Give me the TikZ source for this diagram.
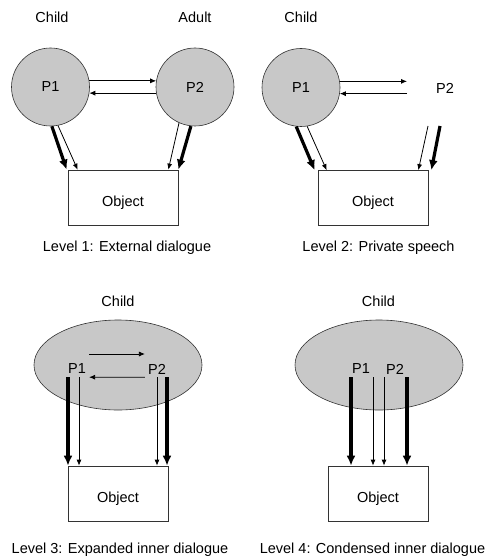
\documentclass[tikz,border=0pt]{standalone}
\usepackage{fontspec}
\setmainfont{Liberation Sans}
\usetikzlibrary{arrows.meta,shapes.geometric}
\definecolor{gray300}{HTML}{C8C8C8}
\definecolor{gray800}{HTML}{333333}
\tikzstyle{person}=[circle, draw=gray800, line width=0.6pt, fill=gray300, minimum size=78pt, inner sep=0pt]
\tikzstyle{mind}=[ellipse, draw=gray800, line width=0.6pt, fill=gray300, minimum width=168pt, minimum height=90pt]
\tikzstyle{objbox}=[rectangle, draw=gray800, line width=0.7pt, minimum width=110pt, minimum height=55pt, text height=17pt, text depth=0pt, inner sep=0pt]
\tikzstyle{voice}=[inner sep=3pt]
\tikzstyle{talk}=[line width=0.8pt, -{Latex[length=6pt,width=5pt]}]
\tikzstyle{act}=[line width=3.2pt, -{Latex[length=10pt,width=9pt]}]

\begin{document}
\begin{tikzpicture}[x=1pt, y=-1pt, font=\fontsize{14.5}{17}\selectfont]
			\useasboundingbox (0,0) rectangle (493,556);
			% level 1
			\node (c1) at (52,17.5) {Child};
			\node (a1) at (195,17.5) {Adult};
			\node[person] (p11) at (50.5,87) {P1};
			\node[person] (p12) at (195,87) {P2};
			\node[objbox] (o1) at (123,197.5) {Object};
			\node (cap1) at (127,248) {Level 1: External dialogue};
			\draw[talk] (p11.9) -- (p12.171);
			\draw[talk] (p12.-171) -- (p11.-9);
			\draw[act] (p11.-88) -- ([xshift=-1pt]o1.north west);
			\draw[talk] (p11.-79) -- ([xshift=10pt]o1.north west);
			\draw[talk] (p12.-114) -- ([xshift=-10pt]o1.north east);
			\draw[act] (p12.-96) -- (o1.north east);
			% level 2
			\node (c2) at (301,17.5) {Child};
			\node[person] (p21) at (301,87.5) {P1};
			\node (p22) at (445,88) {P2};
			\coordinate (e2) at (407,87.5);
			\coordinate (s2a) at (428,126);
			\coordinate (s2b) at (440,126);
			\node[objbox] (o2) at (373,198) {Object};
			\node (cap2) at (378.5,248) {Level 2: Private speech};
			\draw[talk] (p21.9) -- (p21.9 -| e2);
			\draw[talk] (e2 |- p21.-9) -- (p21.-9);
			\draw[act] (p21.-97) -- ([xshift=-3pt]o2.north west);
			\draw[talk] (p21.-81) -- ([xshift=9pt]o2.north west);
			\draw[talk] (s2a) -- ([xshift=-10pt]o2.north east);
			\draw[act] (s2b) -- ([xshift=3pt]o2.north east);
			% level 3
			\node (c3) at (118,301) {Child};
			\node[mind] (e3) at (118,365) {};
			\node[voice] (p31) at (77,369) {P1};
			\node[voice] (p32) at (157,369) {P2};
			\node[objbox, minimum width=100pt] (o3) at (118,493.5) {Object};
			\node (cap3) at (120,549.5) {Level 3: Expanded inner dialogue};
			\draw[talk] ([yshift=15pt]p31.east) -- ([yshift=15pt]p32.west);
			\draw[talk] (p32.south west) -- (p31.south east);
			\draw[act] ([xshift=-9pt]p31.south) -- ([xshift=-9pt]p31.south |- o3.north);
			\draw[talk] ([xshift=2pt]p31.south) -- ([xshift=2pt]p31.south |- o3.north);
			\draw[talk] (p32.south) -- (p32.south |- o3.north);
			\draw[act] ([xshift=10pt]p32.south) -- ([xshift=10pt]p32.south |- o3.north);
			% level 4
			\node (c4) at (378.5,301) {Child};
			\node[mind] (e4) at (379,365) {};
			\node[voice] (p41) at (361,369) {P1};
			\node[voice] (p42) at (395,369) {P2};
			\node[objbox, minimum width=100pt] (o4) at (378,493.5) {Object};
			\node (cap4) at (372.5,549.5) {Level 4: Condensed inner dialogue};
			\draw[act] ([xshift=-10pt]p41.south) -- ([xshift=-10pt]p41.south |- o4.north);
			\draw[talk] ([xshift=12pt]p41.south) -- ([xshift=12pt]p41.south |- o4.north);
			\draw[talk] ([xshift=-11pt]p42.south) -- ([xshift=-11pt]p42.south |- o4.north);
			\draw[act] ([xshift=12pt]p42.south) -- ([xshift=12pt]p42.south |- o4.north);
		\end{tikzpicture}
\end{document}
